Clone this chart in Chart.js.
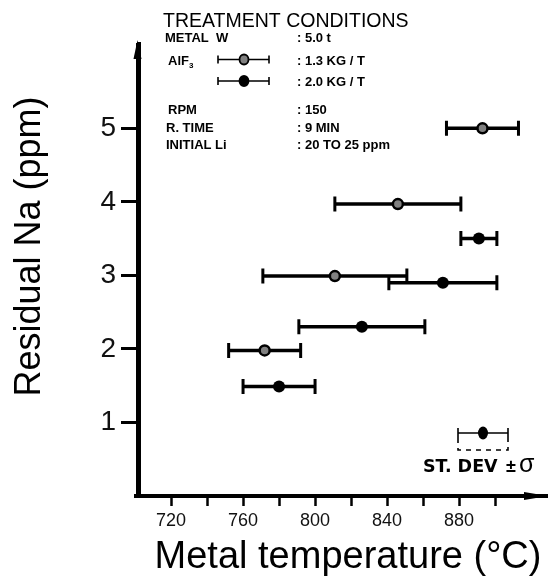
<!DOCTYPE html>
<html><head><meta charset="utf-8">
<script src="https://cdn.jsdelivr.net/npm/chart.js@4.4.1/dist/chart.umd.min.js"></script>
<style>html,body{margin:0;padding:0;background:#fff}canvas{display:block}</style>
</head><body>
<canvas id="c" width="548" height="580"></canvas>
<script>
// ---- data ----
const greyTemp  = [893, 846, 811, 772];      // AlF3 1.3 kg/t, metal temperature (°C)
const greyNa    = [5.0, 3.97, 2.99, 1.98];   // residual Na (ppm)
const greyErr   = [20, 35, 40, 20];          // ± st. dev. (°C)
const blackTemp = [891, 871, 826, 780];      // AlF3 2.0 kg/t
const blackNa   = [3.5, 2.9, 2.3, 1.49];
const blackErr  = [10, 30, 35, 20];
const xTickValues = [720, 740, 760, 780, 800, 820, 840, 860, 880, 900];
const xTickLabels = [720, 760, 800, 840, 880];
const yTickValues = [1, 2, 3, 4, 5];
const xTitle = 'Metal temperature (°C)';
const yTitle = 'Residual Na (ppm)';
const legendTitle = 'TREATMENT CONDITIONS';
const conditionNames  = ['METAL  W', 'RPM', 'R. TIME', 'INITIAL Li'];
const conditionValues = [': 5.0 t', ': 150', ': 9 MIN', ': 20 TO 25 ppm'];
const alf3Values = [': 1.3 KG / T', ': 2.0 KG / T'];

const FONT = "'Liberation Sans', Arial, sans-serif";

const errorBars = {
  id: 'errorBars',
  beforeDatasetsDraw(chart) {
    const {ctx, scales: {x, y}} = chart;
    ctx.save();
    ctx.strokeStyle = '#000';
    chart.data.datasets.forEach(ds => {
      ds.data.forEach((p, i) => {
        const e = ds.errors[i];
        const x1 = x.getPixelForValue(p.x - e), x2 = x.getPixelForValue(p.x + e);
        const py = y.getPixelForValue(p.y);
        ctx.lineWidth = 3.5;
        ctx.beginPath(); ctx.moveTo(x1, py); ctx.lineTo(x2, py); ctx.stroke();
        ctx.lineWidth = 3;
        ctx.beginPath();
        ctx.moveTo(x1, py - 7.5); ctx.lineTo(x1, py + 7.5);
        ctx.moveTo(x2, py - 7.5); ctx.lineTo(x2, py + 7.5);
        ctx.stroke();
      });
    });
    ctx.restore();
  }
};

function keyMarker(ctx, x1, x2, cx, cy, fill) {
  ctx.save();
  ctx.strokeStyle = '#000';
  ctx.lineWidth = 1.6;
  ctx.beginPath();
  ctx.moveTo(x1, cy); ctx.lineTo(x2, cy);
  ctx.moveTo(x1, cy - 4); ctx.lineTo(x1, cy + 4);
  ctx.moveTo(x2, cy - 4); ctx.lineTo(x2, cy + 4);
  ctx.stroke();
  ctx.beginPath();
  ctx.ellipse(cx, cy, 4.5, 5, 0, 0, Math.PI * 2);
  ctx.fillStyle = fill; ctx.fill();
  ctx.lineWidth = 1.8; ctx.stroke();
  ctx.restore();
}

const decorations = {
  id: 'decorations',
  afterDraw(chart) {
    const {ctx, chartArea: a} = chart;
    ctx.save();
    ctx.fillStyle = '#000';
    ctx.strokeStyle = '#000';
    // axis extensions and arrowheads
    ctx.lineWidth = 3;
    ctx.beginPath(); ctx.moveTo(a.left - 1.5, a.bottom + 2); ctx.lineTo(a.left - 1.5, a.top); ctx.stroke();
    ctx.lineWidth = 4;
    ctx.beginPath(); ctx.moveTo(a.left - 5, a.bottom); ctx.lineTo(a.right - 10, a.bottom); ctx.stroke();
    ctx.beginPath();
    ctx.moveTo(a.left - 1.5, a.top - 3); ctx.lineTo(a.left - 5.5, a.top + 16); ctx.lineTo(a.left + 2.5, a.top + 16);
    ctx.closePath(); ctx.fill();
    ctx.beginPath();
    ctx.moveTo(a.right, a.bottom); ctx.lineTo(a.right - 24, a.bottom - 4); ctx.lineTo(a.right - 24, a.bottom + 4);
    ctx.closePath(); ctx.fill();

    // axis titles
    ctx.font = '38px ' + FONT;
    ctx.textAlign = 'center'; ctx.textBaseline = 'alphabetic';
    ctx.fillText(xTitle, 348, 568);
    ctx.save();
    ctx.translate(40, 246.5); ctx.rotate(-Math.PI / 2);
    ctx.font = '36px ' + FONT;
    ctx.fillText(yTitle, 0, 0);
    ctx.restore();

    // treatment conditions block
    ctx.textAlign = 'left';
    ctx.font = '19.5px ' + FONT;
    ctx.fillText(legendTitle, 163, 27);
    ctx.font = 'bold 13px ' + FONT;
    ctx.fillText(conditionNames[0], 165, 42);
    ctx.fillText(conditionValues[0], 297, 42);
    ctx.fillText('AlF', 168, 65);
    const w = ctx.measureText('AlF').width;
    ctx.font = 'bold 8px ' + FONT;
    ctx.fillText('3', 168 + w, 68);
    ctx.font = 'bold 13px ' + FONT;
    ctx.fillText(alf3Values[0], 297, 65);
    ctx.fillText(alf3Values[1], 297, 86);
    ctx.fillText(conditionNames[1], 168, 114);
    ctx.fillText(conditionValues[1], 297, 114);
    ctx.fillText(conditionNames[2], 166, 132);
    ctx.fillText(conditionValues[2], 297, 132);
    ctx.fillText(conditionNames[3], 166, 149);
    ctx.fillText(conditionValues[3], 297, 149);
    keyMarker(ctx, 218, 269, 244, 59.5, '#808080');
    keyMarker(ctx, 218, 269, 244, 81, '#000');

    // st. dev key
    ctx.save();
    ctx.lineWidth = 1.6;
    ctx.beginPath();
    ctx.moveTo(458, 433); ctx.lineTo(508, 433);
    ctx.moveTo(458, 428); ctx.lineTo(458, 438);
    ctx.moveTo(508, 428); ctx.lineTo(508, 438);
    ctx.stroke();
    ctx.setLineDash([5, 5]);
    ctx.beginPath();
    ctx.moveTo(458, 438); ctx.lineTo(458, 450); ctx.lineTo(508, 450); ctx.lineTo(508, 438);
    ctx.stroke();
    ctx.restore();
    ctx.beginPath(); ctx.ellipse(483, 433, 5, 6.5, 0, 0, Math.PI * 2); ctx.fill();
    ctx.font = "bold 17.5px 'DejaVu Sans', " + FONT;
    ctx.fillText('ST. DEV', 423, 472);
    ctx.font = 'bold 18px ' + FONT;
    ctx.fillText('±', 506, 472);
    ctx.font = '25px ' + FONT;
    ctx.fillText('σ', 519, 472);
    ctx.restore();
  }
};

new Chart(document.getElementById('c'), {
  type: 'scatter',
  data: {
    datasets: [
      { label: 'AlF3 1.3 KG/T', data: greyTemp.map((t, i) => ({x: t, y: greyNa[i]})), errors: greyErr,
        pointRadius: 5, pointBackgroundColor: '#808080', pointBorderColor: '#000', pointBorderWidth: 2.5 },
      { label: 'AlF3 2.0 KG/T', data: blackTemp.map((t, i) => ({x: t, y: blackNa[i]})), errors: blackErr,
        pointRadius: 6, pointBackgroundColor: '#000', pointBorderColor: '#000', pointBorderWidth: 0 }
    ]
  },
  options: {
    responsive: false,
    animation: false,
    devicePixelRatio: 1,
    layout: { autoPadding: false, padding: { top: 43, right: 0, left: 0, bottom: 0 } },
    plugins: { legend: { display: false }, tooltip: { enabled: false } },
    scales: {
      x: {
        type: 'linear', min: 702.2, max: 929.4,
        afterFit(s) { s.height = 84; s.paddingLeft = 0; s.paddingRight = 0; },
        afterBuildTicks(s) { s.ticks = xTickValues.map(v => ({value: v})); },
        grid: { drawOnChartArea: false, drawTicks: true, tickLength: 10, tickWidth: 2.5, tickColor: '#000' },
        border: { display: true, color: '#000', width: 4 },
        ticks: { autoSkip: false, maxRotation: 0, padding: 4, color: '#111',
          font: { family: FONT, size: 18 },
          callback: v => xTickLabels.includes(v) ? String(v) : '' }
      },
      y: {
        type: 'linear', min: 0, max: 6.16,
        afterFit(s) { s.width = 139; s.paddingTop = 0; s.paddingBottom = 0; },
        afterBuildTicks(s) { s.ticks = yTickValues.map(v => ({value: v})); },
        grid: { drawOnChartArea: false, drawTicks: true, tickLength: 18, tickWidth: 3, tickColor: '#000' },
        border: { display: true, color: '#000', width: 3 },
        ticks: { padding: 5, color: '#111', font: { family: FONT, size: 28 } }
      }
    }
  },
  plugins: [errorBars, decorations]
});
</script>
</body></html>
